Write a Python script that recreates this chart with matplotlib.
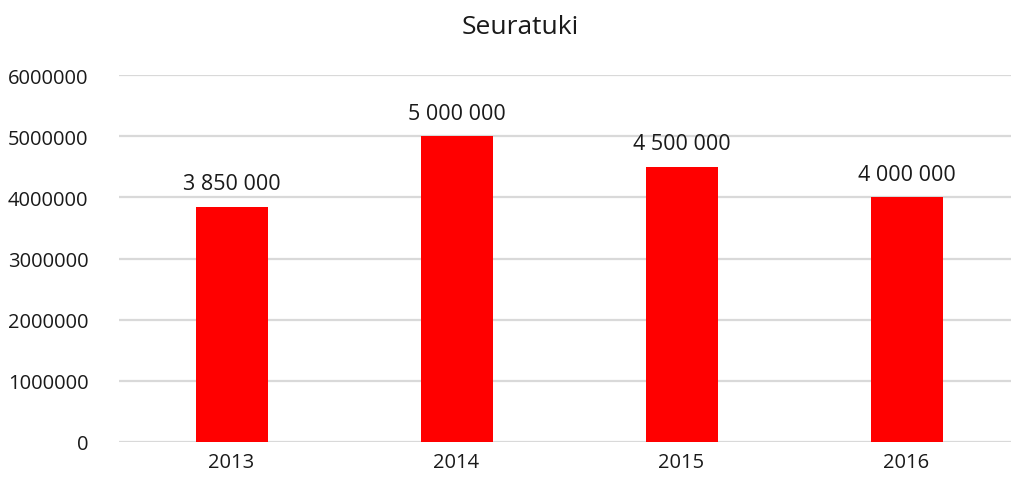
import matplotlib
matplotlib.use("Agg")
import matplotlib.pyplot as plt

years = ["2013", "2014", "2015", "2016"]
values = [3850000, 5000000, 4500000, 4000000]
yticks = [0, 1000000, 2000000, 3000000, 4000000, 5000000, 6000000]
title = "Seuratuki"

plt.rcParams['font.family'] = ['Open Sans', 'DejaVu Sans']

fig = plt.figure(figsize=(10.11, 4.81), dpi=100)
ax = fig.add_axes([119/1011, 1-443/481, 900/1011, (443-76)/481])
x = range(len(years))
ax.bar(x, values, width=0.32, color="#ff0000", zorder=3)
ax.set_xlim(-0.5, len(years)-0.5)
ax.set_ylim(0, 6000000)
ax.set_yticks(yticks)
ax.set_yticklabels([str(v) for v in yticks], fontsize=14.5, color="#1a1a1a")
ax.set_xticks(list(x))
ax.set_xticklabels(years, fontsize=14.5, color="#1a1a1a")
ax.grid(axis="y", color="#d9d9d9", linewidth=1.6, zorder=0)
for s in ax.spines.values():
    s.set_visible(False)
ax.tick_params(length=0, pad=7)
ax.tick_params(axis='y', pad=22)
for xi, v in zip(x, values):
    label = f"{v:,}".replace(",", " ")
    ax.annotate(label, (xi, v), xytext=(0, 9), textcoords="offset points",
                ha="center", va="bottom", fontsize=15.5, color="#1a1a1a")
fig.text(520/1011, 1-27/481, title, ha="center", va="center", fontsize=19, color="#1a1a1a")
fig.savefig("out.png", dpi=100)
